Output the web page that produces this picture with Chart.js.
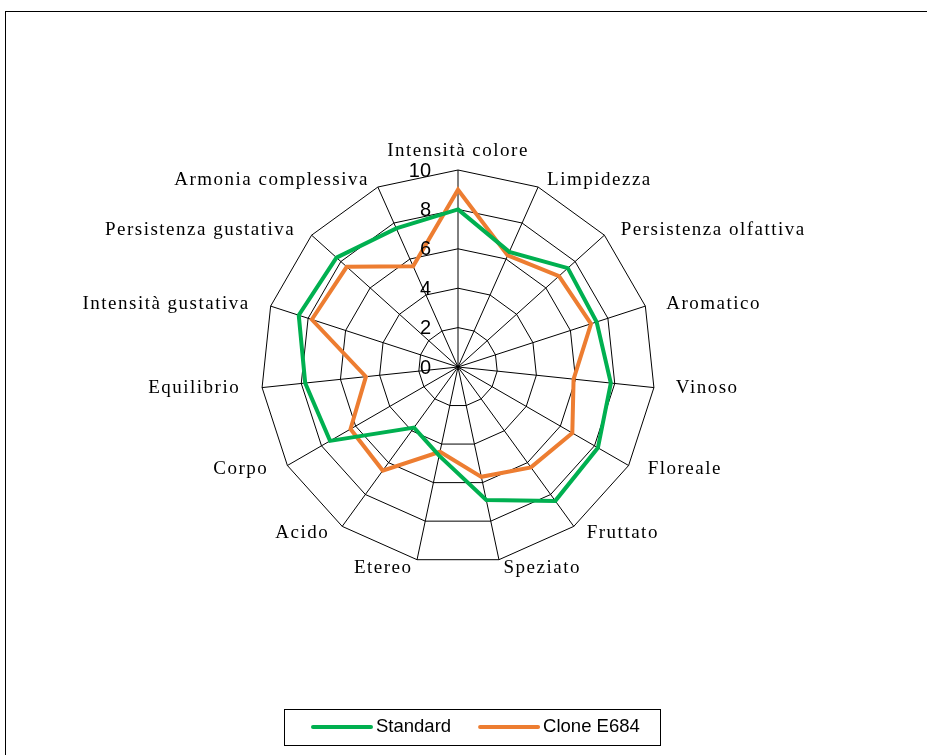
<!DOCTYPE html>
<html>
<head>
<meta charset="utf-8">
<title>Profilo sensoriale</title>
<script src="https://cdn.jsdelivr.net/npm/chart.js@4.4.1/dist/chart.umd.min.js"></script>
<style>
  html, body { margin: 0; padding: 0; background: #fff; }
  #radar { display: block; }
</style>
</head>
<body>
<canvas id="radar" width="927" height="755"></canvas>
<script>
const categories = [
  'Intensità colore', 'Limpidezza', 'Persistenza olfattiva', 'Aromatico', 'Vinoso',
  'Floreale', 'Fruttato', 'Speziato', 'Etereo', 'Acido',
  'Corpo', 'Equilibrio', 'Intensità gustativa', 'Persistenza gustativa', 'Armonia complessiva'
];
const standard = [8.0, 6.4, 7.5, 7.4, 7.8, 8.2, 8.4, 6.9, 4.6, 3.8, 7.5, 7.8, 8.5, 8.3, 7.7];
const cloneE684 = [9.0, 6.2, 6.9, 7.1, 5.9, 6.7, 6.3, 5.7, 4.4, 6.5, 6.3, 4.7, 7.8, 7.6, 5.6];
const tickValues = [0, 2, 4, 6, 8, 10];
const seriesNames = ['Standard', 'Clone E684'];
const seriesColors = ['#00B050', '#ED7D31'];

const serif = '"Liberation Serif", "Times New Roman", serif';
const sans = '"Liberation Sans", Arial, sans-serif';

// outer frame of the chart object (runs off the page on right and bottom)
const frame = {
  id: 'frame',
  beforeDraw(chart) {
    const ctx = chart.ctx;
    ctx.save();
    ctx.fillStyle = '#fff';
    ctx.fillRect(0, 0, chart.width, chart.height);
    ctx.strokeStyle = '#000';
    ctx.lineWidth = 1;
    ctx.strokeRect(5.5, 11.5, chart.width + 20, chart.height + 20);
    ctx.restore();
  }
};

// Excel-like labels: category names and the value axis on the top spoke
const labels = {
  id: 'labels',
  afterDatasetsDraw(chart) {
    const r = chart.scales.r;
    const ctx = chart.ctx;
    ctx.save();
    ctx.fillStyle = '#000';

    ctx.font = '19px ' + serif;
    ctx.letterSpacing = '1.5px';
    categories.forEach((name, i) => {
      const p = r.getPointPosition(i, r.drawingArea + 8);
      const a = r.getIndexAngle(i);
      const s = Math.sin(a);
      if (Math.abs(s) < 0.01) {
        ctx.textAlign = 'center';
        ctx.textBaseline = 'alphabetic';
        ctx.fillText(name, p.x, p.y - 6);
      } else {
        ctx.textAlign = s > 0 ? 'left' : 'right';
        ctx.textBaseline = 'middle';
        ctx.fillText(name, p.x + 14 * s, p.y);
      }
    });

    ctx.letterSpacing = '0px';
    ctx.font = '20px ' + sans;
    ctx.textAlign = 'right';
    ctx.textBaseline = 'middle';
    tickValues.forEach(v => {
      const d = r.getDistanceFromCenterForValue(v);
      ctx.fillText(String(v), r.xCenter - 27, r.yCenter - d + 1);
    });
    ctx.restore();
  }
};

// boxed legend at the bottom
const boxLegend = {
  id: 'boxLegend',
  afterDraw(chart) {
    const ctx = chart.ctx;
    ctx.save();
    ctx.strokeStyle = '#000';
    ctx.lineWidth = 1;
    ctx.strokeRect(284.5, 709.5, 376, 36);
    ctx.font = '18.5px ' + sans;
    ctx.textBaseline = 'middle';
    ctx.textAlign = 'left';
    let x = 313;
    const y = 727;
    chart.data.datasets.forEach(ds => {
      ctx.strokeStyle = ds.borderColor;
      ctx.lineWidth = 4;
      ctx.lineCap = 'round';
      ctx.beginPath();
      ctx.moveTo(x, y);
      ctx.lineTo(x + 58, y);
      ctx.stroke();
      ctx.fillStyle = '#000';
      ctx.fillText(ds.label, x + 63, y);
      x += 63 + ctx.measureText(ds.label).width + 29;
    });
    ctx.restore();
  }
};

new Chart(document.getElementById('radar'), {
  type: 'radar',
  data: {
    labels: categories,
    datasets: [
      { label: seriesNames[0], data: standard, borderColor: seriesColors[0] },
      { label: seriesNames[1], data: cloneE684, borderColor: seriesColors[1] }
    ]
  },
  options: {
    responsive: false,
    animation: false,
    devicePixelRatio: 1,
    layout: { padding: { left: 261, top: 170, right: 272, bottom: 191 } },
    elements: {
      line: { borderWidth: 4, fill: false, tension: 0, borderJoinStyle: 'miter' },
      point: { radius: 0, hoverRadius: 0 }
    },
    scales: {
      r: {
        min: 0,
        max: 10,
        afterBuildTicks: s => { s.ticks = tickValues.map(v => ({ value: v })); },
        ticks: { display: false },
        grid: { color: '#000', lineWidth: 1 },
        angleLines: { color: '#000', lineWidth: 1 },
        pointLabels: { display: false }
      }
    },
    plugins: {
      legend: { display: false },
      tooltip: { enabled: false }
    }
  },
  plugins: [frame, labels, boxLegend]
});
</script>
</body>
</html>
